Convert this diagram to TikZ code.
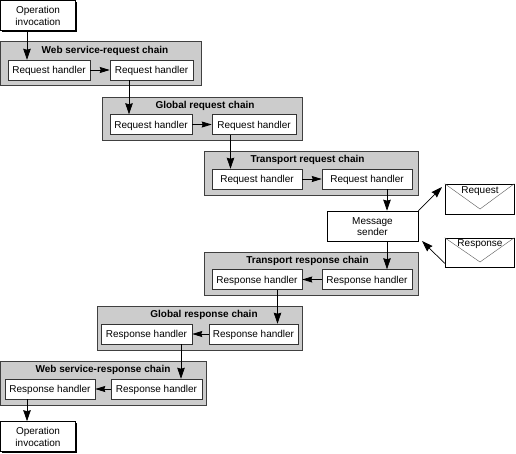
\documentclass[tikz,border=0pt]{standalone}
\usepackage{fontspec}
\setmainfont{Liberation Sans}
\usetikzlibrary{arrows.meta,shadows}
\tikzset{
  x=1pt,y=-1pt,
  shad/.style={drop shadow={shadow xshift=1.3pt,shadow yshift=-1.3pt,opacity=1,fill=black}},
  chain/.style={draw=black!75,line width=0.6pt,fill=black!20,inner sep=0,drop shadow={shadow xshift=0.8pt,shadow yshift=-0.8pt,opacity=1,fill=black!70}},
  handler/.style={draw=black!80,line width=0.5pt,fill=white,inner sep=0,font=\fontsize{10}{12}\selectfont,text height=8.2pt,text depth=1pt,
    drop shadow={shadow xshift=0.7pt,shadow yshift=-0.7pt,opacity=1,fill=black!60}},
  ttl/.style={inner sep=0,font=\fontsize{10}{12}\selectfont\bfseries,text height=8.2pt,text depth=1pt},
  mainbox/.style={draw=black,line width=0.6pt,fill=white,inner sep=0,align=center,shad},
  arr/.style={draw=black,line width=0.7pt,-{Stealth[length=11pt,width=7.5pt,inset=1pt]}},
  harr/.style={draw=black,line width=0.8pt,-{Stealth[length=10pt,width=6pt,inset=1pt]}},
  vee/.style={draw=black!65,line width=0.4pt},
  lbl/.style={inner sep=0,font=\fontsize{10}{12}\selectfont,text height=8.2pt,text depth=1pt},
}
\begin{document}
\begin{tikzpicture}
\useasboundingbox (0,0) rectangle (516,453);
\fill[white] (0,0) rectangle (516,453);
% chains
\node[chain,minimum width=201pt,minimum height=44pt] (c1) at (100.5,63.5) {};
\node[chain,minimum width=200pt,minimum height=43pt] (c2) at (202.5,118.5) {};
\node[chain,minimum width=214pt,minimum height=44pt] (c3) at (311,173) {};
\node[chain,minimum width=214pt,minimum height=43pt] (c4) at (311,273.5) {};
\node[chain,minimum width=205pt,minimum height=44pt] (c5) at (200,328) {};
\node[chain,minimum width=206pt,minimum height=44pt] (c6) at (103,383) {};
% titles
\node[ttl] (t1) at (105,50) {Web service-request chain};
\node[ttl] (t2) at (205,105) {Global request chain};
\node[ttl] (t3) at (307.5,159) {Transport request chain};
\node[ttl] (t4) at (307.5,260) {Transport response chain};
\node[ttl] (t5) at (204,314) {Global response chain};
\node[ttl] (t6) at (103,369) {Web service-response chain};
% handlers
\node[handler,minimum width=82pt,minimum height=20pt] (a1) at (49,70) {Request handler};
\node[handler,minimum width=83pt,minimum height=20pt] (a2) at (151.5,70) {Request handler};
\node[handler,minimum width=82pt,minimum height=20pt] (b1) at (151,124.5) {Request handler};
\node[handler,minimum width=84pt,minimum height=20pt] (b2) at (254,124.5) {Request handler};
\node[handler,minimum width=90pt,minimum height=20pt] (d1) at (257,179) {Request handler};
\node[handler,minimum width=90pt,minimum height=20pt] (d2) at (367,179) {Request handler};
\node[handler,minimum width=90pt,minimum height=20pt] (e1) at (257,279.5) {Response handler};
\node[handler,minimum width=90pt,minimum height=20pt] (e2) at (367,279.5) {Response handler};
\node[handler,minimum width=91pt,minimum height=20pt] (f1) at (146.5,334) {Response handler};
\node[handler,minimum width=89pt,minimum height=20pt] (f2) at (253.5,334) {Response handler};
\node[handler,minimum width=90pt,minimum height=20pt] (g1) at (50,389) {Response handler};
\node[handler,minimum width=91pt,minimum height=20pt] (g2) at (156.5,389) {Response handler};
% main boxes
\node[mainbox,minimum width=75pt,minimum height=30pt,font=\fontsize{10}{12}\selectfont] (op1) at (38,15.5) {Operation\\invocation};
\node[mainbox,minimum width=75pt,minimum height=30pt,font=\fontsize{10}{12}\selectfont] (op2) at (38,436.5) {Operation\\invocation};
\node[mainbox,minimum width=91pt,minimum height=30pt,font=\fontsize{10}{11}\selectfont] (ms) at (372.5,226) {\rule{0pt}{9pt}Message\\sender};
% envelopes
\node[mainbox,minimum width=69pt,minimum height=30pt] (req) at (479.5,199) {};
\node[mainbox,minimum width=69pt,minimum height=29pt] (res) at (479.5,252.5) {};
\coordinate (reqtip) at (480,209);
\coordinate (restip) at (480,262);
\draw[vee] (req.north west) -- (reqtip) -- (req.north east);
\draw[vee] (res.north west) -- (restip) -- (res.north east);
\node[lbl] (reql) at (480,189.5) {Request};
\node[lbl] (resl) at (480,243) {Response};
% horizontal arrows
\draw[harr] (a1) -- (a2);
\draw[harr] (b1) -- (b2);
\draw[harr] (d1) -- (d2);
\draw[harr] (e2) -- (e1);
\draw[harr] (f2) -- (f1);
\draw[harr] (g2) -- (g1);
% vertical arrows
\coordinate (x1) at (27,0);
\coordinate (x2) at (129,0);
\coordinate (x3) at (230.5,0);
\coordinate (x4) at (387,0);
\coordinate (x5) at (277.5,0);
\coordinate (x6) at (181,0);
\draw[arr] (x1 |- op1.south) -- (x1 |- a1.north);
\draw[arr] (x2 |- a2.south) -- (x2 |- b1.north);
\draw[arr] (x3 |- b2.south) -- (x3 |- d1.north);
\draw[arr] (x4 |- d2.south) -- (x4 |- ms.north);
\draw[arr] (x4 |- ms.south) -- (x4 |- e2.north);
\draw[arr] (x5 |- e1.south) -- (x5 |- f2.north);
\draw[arr] (x6 |- f1.south) -- (x6 |- g2.north);
\draw[arr] (x1 |- g1.south) -- (x1 |- op2.north);
% envelope arrows
\coordinate (s1) at (442,187);
\coordinate (s2) at (422,241);
\draw[arr] (ms.north east) -- (s1);
\draw[arr] (res.south west) ++(0,-4) -- (s2);
\end{tikzpicture}
\end{document}
